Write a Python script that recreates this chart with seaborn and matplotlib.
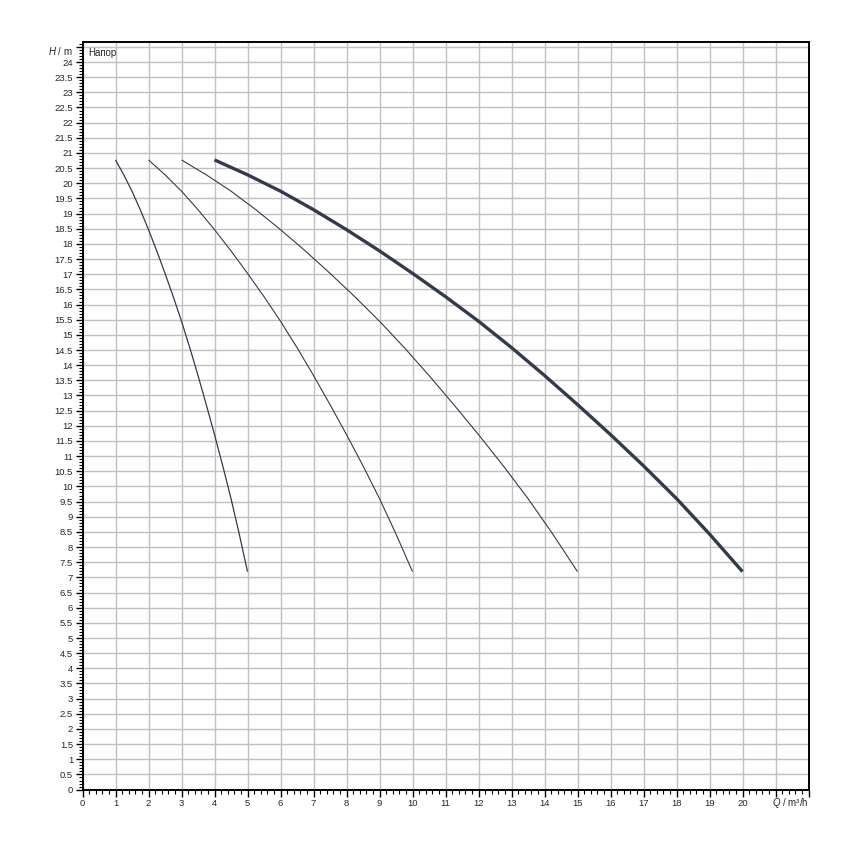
import matplotlib
matplotlib.use("Agg")
import matplotlib.pyplot as plt
import seaborn as sns
import numpy as np
import pandas as pd
from matplotlib.ticker import MultipleLocator, FixedLocator

# ---- data ----
head = [20.77, 20.28, 19.74, 19.13, 18.47, 17.77, 17.03, 16.26, 15.45,
        14.58, 13.66, 12.70, 11.71, 10.68, 9.60, 8.43, 7.19]

flow_1 = [1.0, 1.25, 1.5, 1.75, 2.0, 2.25, 2.5, 2.75, 3.0, 3.25, 3.5,
          3.75, 4.0, 4.25, 4.5, 4.75, 5.0]
flow_2 = [2.0, 2.5, 3.0, 3.5, 4.0, 4.5, 5.0, 5.5, 6.0, 6.5, 7.0,
          7.5, 8.0, 8.5, 9.0, 9.5, 10.0]
flow_3 = [3.0, 3.75, 4.5, 5.25, 6.0, 6.75, 7.5, 8.25, 9.0, 9.75, 10.5,
          11.25, 12.0, 12.75, 13.5, 14.25, 15.0]
flow_4 = [4.0, 5.0, 6.0, 7.0, 8.0, 9.0, 10.0, 11.0, 12.0, 13.0, 14.0,
          15.0, 16.0, 17.0, 18.0, 19.0, 20.0]

curve_names = ["1", "2", "3", "4"]
x_tick_labels = [str(i) for i in range(0, 21)]
y_tick_labels = [("%g" % v) for v in np.arange(0, 24.01, 0.5)]

frames = []
for name, q in zip(curve_names, [flow_1, flow_2, flow_3, flow_4]):
    frames.append(pd.DataFrame({"Q": q, "H": head, "curve": name}))
df = pd.concat(frames, ignore_index=True)

# ---- style ----
sns.set_style("white")
plt.rcParams["font.family"] = ["Liberation Sans", "DejaVu Sans"]
plt.rcParams["mathtext.fontset"] = "custom"
plt.rcParams["mathtext.it"] = "Liberation Sans:italic"
plt.rcParams["mathtext.rm"] = "Liberation Sans"

fig = plt.figure(figsize=(8.5, 8.5), dpi=100)
ax = fig.add_axes([82.5 / 850, 1 - 789.6 / 850, 726 / 850, 747.3 / 850])

line_color = "#343b48"
widths = {"1": 0.9, "2": 0.8, "3": 0.8, "4": 2.4}
for name in curve_names:
    sub = df[df["curve"] == name]
    sns.lineplot(data=sub, x="Q", y="H", ax=ax, color=line_color,
                 linewidth=widths[name], sort=False, legend=False,
                 solid_joinstyle="round", solid_capstyle="butt")

ax.set_xlim(0, 22)
ax.set_ylim(0, 24.65)

# grid
ax.xaxis.set_major_locator(FixedLocator(np.arange(0, 23, 1)))
ax.xaxis.set_minor_locator(MultipleLocator(0.2))
ax.yaxis.set_major_locator(FixedLocator(np.arange(0, 24.51, 0.5)))
ax.yaxis.set_minor_locator(MultipleLocator(0.1))
ax.set_xticklabels(x_tick_labels + ["", ""])
ax.set_yticklabels(y_tick_labels + [""])
ax.grid(True, which="major", color="#c0c0c0", linewidth=1.0)
ax.set_axisbelow(True)

ax.tick_params(axis="both", which="major", direction="out", length=5,
               width=1.0, color="black", labelsize=6.8, pad=1.8)
ax.tick_params(axis="both", which="minor", direction="out", length=2.8,
               width=0.8, color="black")
ax.tick_params(axis="x", which="both", bottom=True, top=False)
ax.tick_params(axis="y", which="both", left=True, right=False)

for s in ax.spines.values():
    s.set_visible(True)
    s.set_color("black")
    s.set_linewidth(1.4)

ax.set_xlabel("")
ax.set_ylabel("")

# axis titles
ax.annotate(r"$\mathit{H}$ / m", xy=(0, 1), xycoords="axes fraction",
            xytext=(-7, -6.5), textcoords="offset points",
            ha="right", va="center", fontsize=7)
ax.annotate(r"$\mathit{Q}$ / m³/h", xy=(1, 0), xycoords="axes fraction",
            xytext=(0, -10), textcoords="offset points",
            ha="right", va="center", fontsize=7)
ax.annotate("Напор", xy=(0, 1), xycoords="axes fraction",
            xytext=(4, -8), textcoords="offset points",
            ha="left", va="center", fontsize=7)

fig.savefig("out.png", dpi=100, facecolor="white")
